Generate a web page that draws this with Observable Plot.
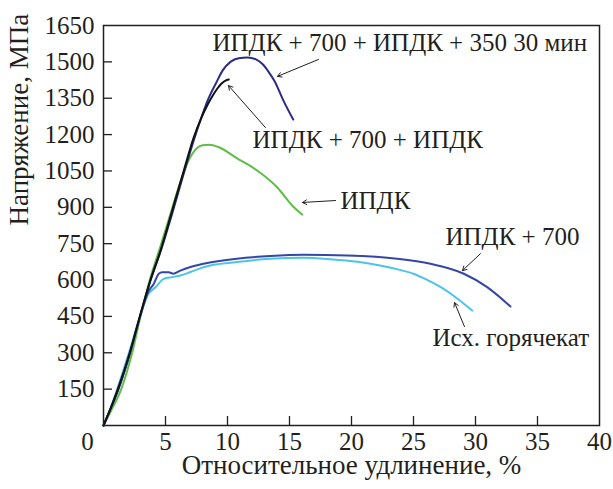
<!DOCTYPE html>
<html><head><meta charset="utf-8">
<script src="https://cdn.jsdelivr.net/npm/d3@7"></script>
<script src="https://cdn.jsdelivr.net/npm/@observablehq/plot@0.6"></script>
<style>
body{margin:0;background:#fff}
svg{display:block}
svg, svg text{font-family:"Liberation Serif","DejaVu Serif",serif !important;}
</style>
</head><body><div id="chart"></div>
<script>
// Tick values
const xTicks = [0, 5, 10, 15, 20, 25, 30, 35, 40];
const yTicks = [150, 300, 450, 600, 750, 900, 1050, 1200, 1350, 1500, 1650];

// Series: ИПДК + 700 + ИПДК + 350 30 мин
const strainA = [0, 0.5, 1.2, 2.15, 2.95, 3.8, 4.65, 5.6, 6.5, 7.4, 8.47, 9.1, 9.6, 10.24, 10.9, 11.6, 12.3, 12.8, 13.3, 13.8, 14.5, 15.3];
const stressA = [0, 60, 150, 300, 450, 600, 725, 885, 1045, 1195, 1349, 1415, 1464, 1500, 1515, 1518, 1510, 1492, 1460, 1420, 1341, 1262];
// Series: ИПДК + 700 + ИПДК
const strainB = [0, 0.5, 1.16, 2.12, 2.93, 3.79, 4.6, 5.5, 6.48, 7.28, 7.9, 8.36, 8.8, 9.17, 9.5, 9.84, 10.1];
const stressB = [0, 60, 150, 300, 450, 600, 722, 880, 1052, 1189, 1270, 1320, 1360, 1389, 1410, 1423, 1427];
// Series: ИПДК
const strainC = [0, 0.6, 1.43, 2.31, 2.98, 3.73, 4.6, 5.5, 6.3, 6.88, 7.55, 8.0, 8.49, 9.3, 10.78, 12.39, 14.0, 15.35, 16.02];
const stressC = [0, 60, 150, 300, 450, 600, 740, 890, 1020, 1095, 1145, 1156, 1158, 1148, 1102, 1052, 983, 900, 870];
// Series: ИПДК + 700
const strainD = [0, 0.5, 1.2, 2.15, 2.95, 3.6, 4.06, 4.46, 4.73, 5.27, 5.62, 6.2, 6.96, 8.06, 10.75, 13.44, 16.13, 19.65, 23.68, 26.37, 29.06, 30.94, 32.82];
const stressD = [0, 60, 150, 300, 450, 550, 585, 626, 632, 632, 626, 639, 653, 667, 688, 699, 704, 701, 688, 667, 626, 571, 491];
// Series: Исх. горячекат
const strainE = [0, 0.5, 1.1, 2.05, 2.95, 3.6, 4.19, 4.87, 5.54, 6.2, 6.96, 8.06, 10.75, 13.44, 16.13, 18.3, 20.5, 22.3, 23.8, 25.0, 26.2, 27.2, 28.5, 29.73];
const stressE = [0, 62, 150, 300, 450, 540, 570, 605, 612, 619, 632, 653, 674, 688, 692, 686, 675, 660, 643, 626, 598, 571, 525, 474];

// Annotation labels (data coordinates)
const labelText = ["ИПДК + 700 + ИПДК + 350 30 мин", "ИПДК + 700 + ИПДК", "ИПДК", "ИПДК + 700", "Исх. горячекат"];
const labelX = [8.79, 12.02, 19.11, 27.58, 26.53];
const labelY = [1576, 1176, 928, 776, 359];
// Annotation arrows (tail -> head)
const arrowX1 = [17.34, 13.06, 18.71, 30.4, 29.11];
const arrowY1 = [1510, 1229, 928, 709, 408];
const arrowX2 = [14.03, 10.08, 16.05, 28.95, 28.31];
const arrowY2 = [1440, 1402, 920, 639, 507];

const zip = (xs, ys) => xs.map((x, i) => ({x, y: ys[i]}));
const labels = labelText.map((t, i) => ({t, x: labelX[i], y: labelY[i]}));
const arrows = arrowX1.map((x1, i) => ({x1, y1: arrowY1[i], x2: arrowX2[i], y2: arrowY2[i]}));

const ink = "#231f20";
const serif = "Liberation Serif";
const lineOpts = (stroke) => ({x: "x", y: "y", stroke, strokeWidth: 2, curve: "monotone-x"});

const chart = Plot.plot({
  width: 613,
  height: 489,
  marginLeft: 103,
  marginRight: 14,
  marginTop: 25,
  marginBottom: 64,
  x: {domain: [0, 40]},
  y: {domain: [0, 1650]},
  style: {fontFamily: serif, fontSize: "25px", color: ink, background: "#fff"},
  marks: [
    Plot.line(zip(strainE, stressE), lineOpts("#4cc4e8")),
    Plot.line(zip(strainD, stressD), lineOpts("#3446a6")),
    Plot.line(zip(strainC, stressC), lineOpts("#5dbd45")),
    Plot.line(zip(strainA, stressA), lineOpts("#2b2c86")),
    Plot.line(zip(strainB, stressB), lineOpts("#111111")),
    Plot.tickY(yTicks.filter(d => d < 1650), {y: d => d, insetRight: 487, stroke: ink, strokeWidth: 1.3}),
    Plot.tickX(xTicks.filter(d => d > 0 && d < 40), {x: d => d, insetTop: 391, stroke: ink, strokeWidth: 1.3}),
    Plot.frame({stroke: ink, strokeWidth: 1.5}),
    Plot.axisY(yTicks, {tickSize: 0, tickPadding: 9, fontSize: 25, fontFamily: serif, label: null, fill: ink, tickFormat: d => String(d)}),
    Plot.axisX(xTicks.filter(d => d > 0), {tickSize: 0, tickPadding: 7, fontSize: 25, fontFamily: serif, label: null, fill: ink, tickFormat: d => String(d)}),
    Plot.text(xTicks.filter(d => d === 0), {x: d => d, frameAnchor: "bottom", dx: -16, dy: 7, lineAnchor: "top", text: d => String(d), fontSize: 25, fontFamily: serif, fill: ink}),
    Plot.text(["Напряжение, МПа"], {frameAnchor: "left", rotate: -90, dx: -84, text: d => d, fontSize: 27, fontFamily: serif, fill: ink}),
    Plot.text(["Относительное удлинение, %"], {frameAnchor: "bottom", dy: 48, text: d => d, fontSize: 27, fontFamily: serif, fill: ink}),
    Plot.arrow(arrows, {x1: "x1", y1: "y1", x2: "x2", y2: "y2", stroke: ink, strokeWidth: 1, headLength: 7}),
    Plot.text(labels, {x: "x", y: "y", text: "t", textAnchor: "start", fontSize: 25, fontFamily: serif, fill: ink})
  ]
});
document.getElementById("chart").appendChild(chart);
</script></body></html>
